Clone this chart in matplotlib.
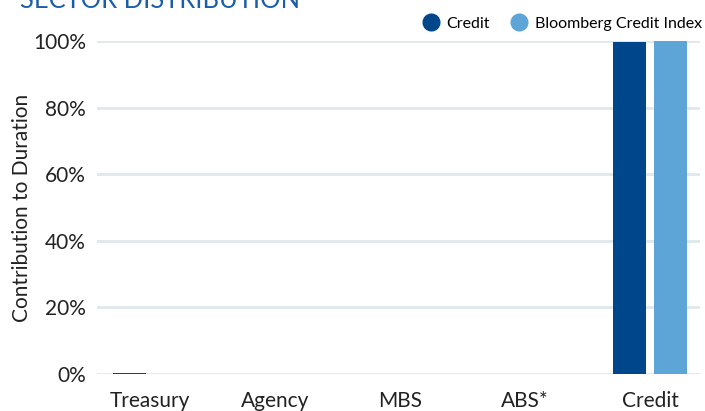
import matplotlib.pyplot as plt
import numpy as np
from matplotlib.lines import Line2D

# ===== Data =====
sectors = ["Treasury", "Agency", "MBS", "ABS*", "Credit"]
fund_values = [0.2, 0.0, 0.0, 0.0, 99.8]
index_values = [0.0, 0.0, 0.0, 0.0, 100.0]
y_ticks = [0, 20, 40, 60, 80, 100]

DARK = "#00468b"
LIGHT = "#5ca5d6"
GRID = "#dfe8ec"

plt.rcParams["font.family"] = ["Lato", "DejaVu Sans"]

fig = plt.figure(figsize=(7.05, 4.11), dpi=100)
ax = fig.add_axes([97 / 705, 37 / 411, 603 / 705, 333 / 411])

x = np.arange(len(sectors))
width = 0.264
offset = 0.164
ax.bar(x - offset, fund_values, width, color=DARK, zorder=3)
ax.bar(x + offset, index_values, width, color=LIGHT, zorder=3)

ax.set_xlim(-0.42, 4.4)
ax.set_ylim(0, 100)
ax.set_yticks(y_ticks)
ax.set_yticklabels([f"{v}%" for v in y_ticks])
ax.set_xticks(x)
ax.set_xticklabels(sectors)
ax.tick_params(axis="both", length=0, labelsize=15, colors="#222222")
ax.tick_params(axis="x", pad=12)
ax.tick_params(axis="y", pad=8)
ax.grid(axis="y", color=GRID, linewidth=2, zorder=0)
for side in ax.spines.values():
    side.set_visible(False)
ax.set_ylabel("Contribution to Duration", fontsize=15, color="#222222")
ax.yaxis.set_label_coords(-0.108, 0.5)

# title sits partly above the canvas, as in the source image
fig.text(0.028, 1.0, "SECTOR DISTRIBUTION", fontsize=18.4, color="#1a5ea8",
         ha="left", va="center")

handles = [
    Line2D([], [], marker="o", linestyle="none", markersize=12, color=DARK, label="Credit"),
    Line2D([], [], marker="o", linestyle="none", markersize=12, color=LIGHT,
           label="Bloomberg Credit Index"),
]
fig.legend(handles=handles, loc="upper right", bbox_to_anchor=(1.016, 0.995), ncol=2,
           frameon=False, fontsize=11.5, handlelength=1.0, handletextpad=0.5,
           columnspacing=1.3)

fig.savefig("out.png", dpi=100)
